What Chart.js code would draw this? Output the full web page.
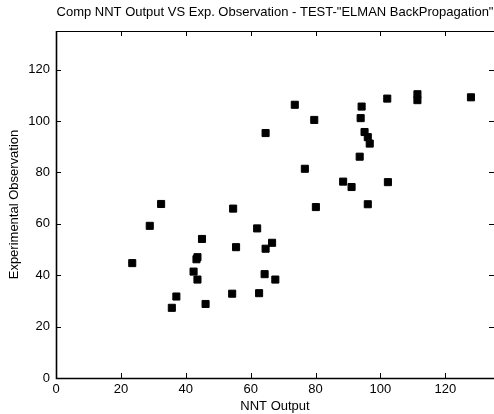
<!DOCTYPE html>
<html>
<head>
<meta charset="utf-8">
<script src="https://cdn.jsdelivr.net/npm/chart.js@4/dist/chart.umd.min.js"></script>
<style>
  html, body { margin: 0; padding: 0; background: #fff; }
  canvas { display: block; }
</style>
</head>
<body>
<canvas id="c" width="494" height="414"></canvas>
<script>
// NNT predicted output vs. measured value, test set (Elman backpropagation net)
const nntOutput = [32.4, 54.6, 28.9, 62.0, 45.0, 55.5, 23.5, 43.6, 43.3, 42.4, 43.6, 37.1, 54.3, 46.1, 35.7,
                   73.6, 94.2, 102.1, 111.4, 111.4, 127.9, 79.6, 93.9, 64.6, 95.1, 96.1, 96.7, 93.6, 76.7,
                   88.5, 91.1, 102.3, 80.1, 96.1, 66.6, 64.6, 64.3, 67.6, 62.6];
const experimental = [67.7, 65.9, 59.2, 58.2, 54.1, 50.9, 44.7, 47.0, 46.2, 41.4, 38.3, 31.7, 32.8, 28.8, 27.3,
                      106.3, 105.6, 108.7, 110.4, 108.1, 109.2, 100.4, 101.1, 95.3, 95.7, 93.7, 91.2, 86.1, 81.4,
                      76.4, 74.3, 76.2, 66.5, 67.6, 52.6, 50.3, 40.4, 38.3, 33.0];
const xTicks = [0, 20, 40, 60, 80, 100, 120];
const yTicks = [0, 20, 40, 60, 80, 100, 120];
const xRange = [0, 135];
const yRange = [0, 135];

const FONT = "'Liberation Sans', Arial, Helvetica, sans-serif";

// Box around the plot with inward-pointing tick marks on all four sides
const boxTicks = {
  id: 'boxTicks',
  afterDraw(chart) {
    const { ctx, chartArea: a, scales: { x, y } } = chart;
    const len = 5;
    ctx.save();
    ctx.strokeStyle = '#000';
    ctx.lineWidth = 1;
    ctx.beginPath();
    ctx.rect(a.left + 0.5, a.top + 0.5, a.right - a.left, a.bottom - a.top);
    xTicks.forEach(v => {
      const px = Math.round(x.getPixelForValue(v)) + 0.5;
      ctx.moveTo(px, a.bottom); ctx.lineTo(px, a.bottom - len);
      ctx.moveTo(px, a.top); ctx.lineTo(px, a.top + len);
    });
    yTicks.forEach(v => {
      const py = Math.round(y.getPixelForValue(v)) + 0.5;
      ctx.moveTo(a.left, py); ctx.lineTo(a.left + len, py);
      ctx.moveTo(a.right, py); ctx.lineTo(a.right - len, py);
    });
    ctx.stroke();
    // heavier left and bottom axis lines
    ctx.lineWidth = 1.6;
    ctx.beginPath();
    ctx.moveTo(a.left + 0.5, a.top);
    ctx.lineTo(a.left + 0.5, a.bottom + 0.5);
    ctx.lineTo(a.right, a.bottom + 0.5);
    ctx.stroke();
    ctx.restore();
  }
};

const points = nntOutput.map((v, i) => ({ x: v, y: experimental[i] }));

new Chart(document.getElementById('c'), {
  type: 'scatter',
  data: {
    datasets: [{
      data: points,
      pointStyle: 'rect',
      pointRadius: 5,
      pointHoverRadius: 5,
      backgroundColor: '#000',
      borderColor: '#000',
      borderWidth: 1
    }]
  },
  options: {
    responsive: false,
    animation: false,
    events: [],
    layout: { autoPadding: false, padding: { left: 0, right: 0, top: 0, bottom: 0 } },
    plugins: {
      legend: { display: false },
      tooltip: { enabled: false },
      title: {
        display: true,
        fullSize: false,
        text: 'Comp NNT Output VS Exp. Observation - TEST-"ELMAN BackPropagation"',
        color: '#000',
        font: { family: FONT, size: 13, weight: 'normal' },
        padding: { top: 5, bottom: 10.4 }
      }
    },
    scales: {
      x: {
        type: 'linear',
        min: xRange[0], max: xRange[1],
        afterFit(s) { s.height = 36; s.paddingLeft = 0; s.paddingRight = 0; },
        afterBuildTicks(s) { s.ticks = xTicks.map(v => ({ value: v })); },
        grid: { display: false, drawTicks: false },
        border: { display: false },
        ticks: { color: '#000', font: { family: FONT, size: 13 }, padding: 4, maxRotation: 0 },
        title: {
          display: true, text: 'NNT Output', color: '#000',
          font: { family: FONT, size: 13 }, padding: { top: 0, bottom: 0 }
        }
      },
      y: {
        type: 'linear',
        min: yRange[0], max: yRange[1],
        afterFit(s) { s.width = 56; s.paddingTop = 0; s.paddingBottom = 0; },
        afterBuildTicks(s) { s.ticks = yTicks.map(v => ({ value: v })); },
        grid: { display: false, drawTicks: false },
        border: { display: false },
        ticks: { color: '#000', font: { family: FONT, size: 13 }, padding: 6 },
        title: {
          display: true, text: 'Experimental Observation', color: '#000',
          font: { family: FONT, size: 13 }, padding: { top: 7, bottom: 0 }
        }
      }
    }
  },
  plugins: [boxTicks]
});
</script>
</body>
</html>
